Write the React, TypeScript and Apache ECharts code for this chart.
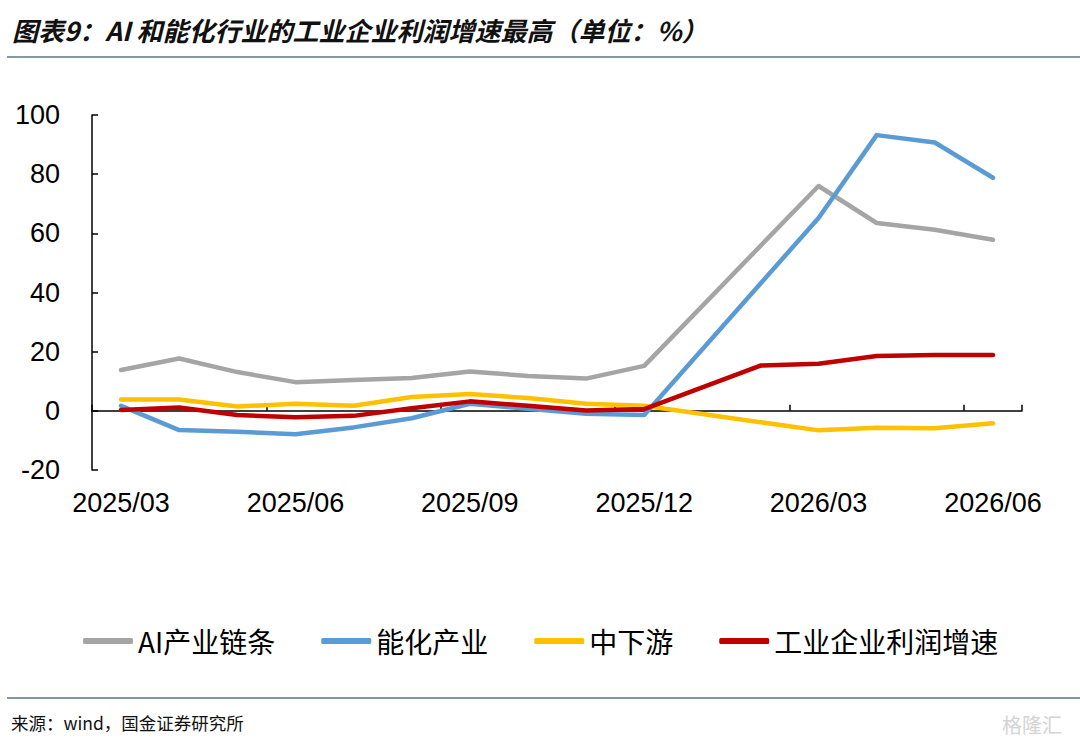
import React, { useEffect, useRef } from "react";
import * as echarts from "echarts";

const categories = [
  "2025/03", "2025/04", "2025/05", "2025/06", "2025/07", "2025/08",
  "2025/09", "2025/10", "2025/11", "2025/12", "2026/01", "2026/02",
  "2026/03", "2026/04", "2026/05", "2026/06",
];
const aiChain = [13.8, 17.7, 13.1, 9.7, 10.4, 11.1, 13.3, 11.8, 10.9, 15.2, null, null, 76.0, 63.5, 61.2, 57.8];
const energyChem = [1.7, -6.5, -7.1, -7.9, -5.6, -2.5, 2.4, 0.7, -1.0, -1.4, null, null, 65.2, 93.2, 90.7, 78.8];
const midDown = [3.8, 3.8, 1.5, 2.4, 1.7, 4.7, 5.7, 4.3, 2.4, 1.7, null, null, -6.6, -5.7, -5.9, -4.2];
const industrial = [0.3, 1.1, -1.4, -2.2, -1.7, 0.9, 3.2, 1.7, 0.1, 0.6, null, 15.3, 15.9, 18.5, 18.9, 18.9];
const seriesNames = ["AI产业链条", "能化产业", "中下游", "工业企业利润增速"];
const seriesColors = ["#A5A5A5", "#5B9BD5", "#FFC000", "#C00000"];
const yTicks = { min: -20, max: 100, interval: 20 };

const FONT = '"Liberation Sans", Arial, sans-serif';
const CJK = '"Noto Sans CJK SC", sans-serif';

export default function App() {
  const ref = useRef<HTMLDivElement>(null);
  useEffect(() => {
    if (!ref.current) return;
    const chart = echarts.init(ref.current, null, { renderer: "svg" });
    const data = [aiChain, energyChem, midDown, industrial];
    chart.setOption({
      animation: false,
      backgroundColor: "#ffffff",
      grid: { left: 92, right: 58, top: 115, height: 355, containLabel: false },
      legend: {
        left: 78,
        top: 622,
        icon: "roundRect",
        itemWidth: 50,
        itemHeight: 6,
        itemGap: 46,
        textStyle: { fontSize: 28, fontFamily: CJK, color: "#000", padding: [0, 0, 0, 0] },
        data: seriesNames,
      },
      xAxis: [
        {
          type: "category",
          data: categories,
          boundaryGap: true,
          axisLine: { show: true, onZero: true, lineStyle: { color: "#000", width: 1.5 } },
          axisTick: { show: true, inside: true, length: 6, interval: 2, lineStyle: { color: "#000", width: 1.5 } },
          axisLabel: { show: false },
          splitLine: { show: false },
        },
        {
          type: "category",
          data: categories,
          position: "bottom",
          boundaryGap: true,
          axisLine: { show: false, onZero: false },
          axisTick: { show: false },
          axisLabel: {
            show: true,
            interval: 2,
            margin: 19,
            fontSize: 27,
            fontFamily: FONT,
            color: "#000",
          },
          splitLine: { show: false },
        },
      ],
      yAxis: {
        type: "value",
        min: yTicks.min,
        max: yTicks.max,
        interval: yTicks.interval,
        axisLine: { show: true, lineStyle: { color: "#000", width: 1.5 } },
        axisTick: { show: true, inside: true, length: 6, lineStyle: { color: "#000", width: 1.5 } },
        axisLabel: { fontSize: 27, fontFamily: FONT, color: "#000", margin: 32 },
        splitLine: { show: false },
      },
      series: seriesNames.map((name, i) => ({
        name,
        type: "line",
        xAxisIndex: 0,
        data: data[i],
        connectNulls: true,
        showSymbol: false,
        symbol: "none",
        color: seriesColors[i],
        lineStyle: { width: 4.5, color: seriesColors[i], cap: "round", join: "round" },
        z: 2 + i,
      })),
      graphic: [
        {
          type: "text",
          left: 12,
          top: 16,
          style: {
            text: "图表9：AI 和能化行业的工业企业利润增速最高（单位：%）",
            fontSize: 26,
            fontWeight: "bold",
            fontStyle: "italic",
            fontFamily: CJK,
            fill: "#111",
          },
        },
        {
          type: "line",
          shape: { x1: 7, y1: 57, x2: 1080, y2: 57 },
          style: { stroke: "#5f7384", lineWidth: 1.5 },
        },
        {
          type: "line",
          shape: { x1: 7, y1: 698, x2: 1080, y2: 698 },
          style: { stroke: "#5f7384", lineWidth: 1.5 },
        },
        {
          type: "text",
          left: 11,
          top: 714,
          style: {
            text: "来源：wind，国金证券研究所",
            fontSize: 17.5,
            fontFamily: CJK,
            fill: "#111",
          },
        },
        {
          type: "text",
          left: 1002,
          top: 714,
          style: {
            text: "格隆汇",
            fontSize: 20,
            fontFamily: CJK,
            fill: "#d4d4d4",
          },
        },
      ],
    });
    return () => chart.dispose();
  }, []);
  return (
    <div
      ref={ref}
      style={{ position: "fixed", left: 0, top: 0, width: 1080, height: 752, background: "#fff" }}
    />
  );
}
